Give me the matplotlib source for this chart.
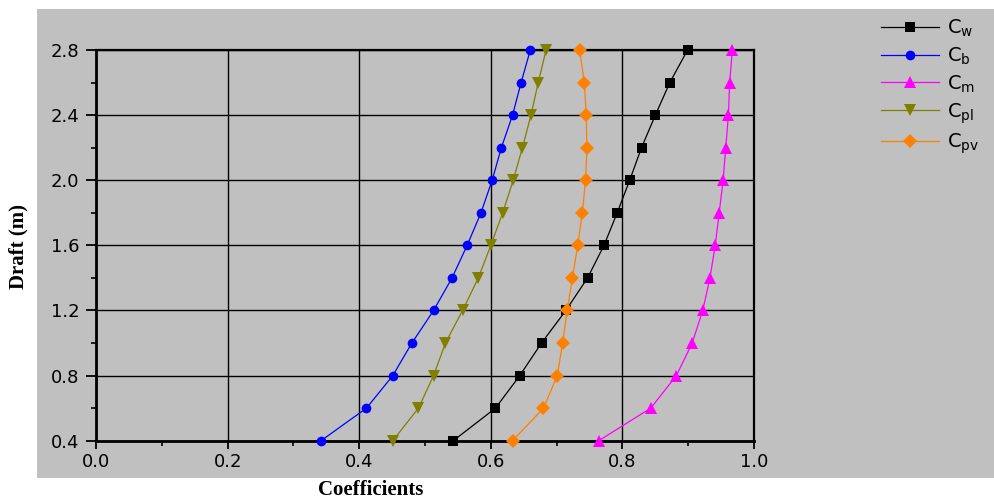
import matplotlib
matplotlib.use("Agg")
import matplotlib.pyplot as plt
from matplotlib.patches import Rectangle
from matplotlib.ticker import MultipleLocator

# Hull form coefficients against draft
draft = [0.4, 0.6, 0.8, 1.0, 1.2, 1.4, 1.6, 1.8, 2.0, 2.2, 2.4, 2.6, 2.8]
cw = [0.543, 0.607, 0.644, 0.677, 0.714, 0.747, 0.772, 0.792, 0.811, 0.829, 0.850, 0.872, 0.899]
cb = [0.342, 0.411, 0.451, 0.480, 0.513, 0.541, 0.564, 0.585, 0.602, 0.616, 0.633, 0.646, 0.660]
cm = [0.764, 0.843, 0.882, 0.906, 0.922, 0.933, 0.941, 0.947, 0.953, 0.957, 0.961, 0.963, 0.967]
cpl = [0.451, 0.490, 0.513, 0.531, 0.557, 0.581, 0.600, 0.618, 0.634, 0.648, 0.661, 0.672, 0.684]
cpv = [0.633, 0.680, 0.701, 0.709, 0.716, 0.724, 0.732, 0.739, 0.744, 0.746, 0.745, 0.742, 0.735]

series = [
    (cw, r'C$_\mathregular{w}$', 'black', 's', 6.5),
    (cb, r'C$_\mathregular{b}$', '#0000ff', 'o', 7),
    (cm, r'C$_\mathregular{m}$', '#ff00ff', '^', 9),
    (cpl, r'C$_\mathregular{pl}$', '#808000', 'v', 9),
    (cpv, r'C$_\mathregular{pv}$', '#ff8000', 'D', 7),
]

plt.rcParams['font.family'] = 'DejaVu Sans'

fig = plt.figure(figsize=(9.94, 5.04), dpi=100)
fig.patch.set_facecolor('white')
# grey backdrop behind the plot and legend
fig.patches.append(Rectangle((0.0372, 0.0516), 0.963, 0.9306, transform=fig.transFigure,
                             facecolor='#c0c0c0', edgecolor='none', zorder=-5))

ax = fig.add_axes([0.0966, 0.1256, 0.662, 0.7752])
ax.set_facecolor('#c0c0c0')

for vals, label, color, marker, ms in series:
    ax.plot(vals, draft, color=color, linewidth=0.9, marker=marker, markersize=ms,
            markeredgewidth=0, label=label, zorder=3, clip_on=False)

ax.set_xlim(0.0, 1.0)
ax.set_ylim(0.4, 2.8)
ax.xaxis.set_major_locator(MultipleLocator(0.2))
ax.xaxis.set_minor_locator(MultipleLocator(0.1))
ax.yaxis.set_major_locator(MultipleLocator(0.4))
ax.yaxis.set_minor_locator(MultipleLocator(0.2))
ax.xaxis.set_major_formatter(plt.FormatStrFormatter('%.1f'))
ax.yaxis.set_major_formatter(plt.FormatStrFormatter('%.1f'))
ax.grid(True, which='major', color='black', linewidth=1.0)
ax.set_axisbelow(True)

ax.tick_params(which='major', direction='out', length=7, width=1.3, labelsize=13, pad=5)
ax.tick_params(axis='x', which='major', length=6, pad=3)
ax.tick_params(which='minor', direction='out', length=3.5, width=1.2)
for side in ['left', 'bottom']:
    ax.spines[side].set_linewidth(2.0)
for side in ['top', 'right']:
    ax.spines[side].set_linewidth(1.6)

fig.text(0.373, 0.028, 'Coefficients', fontfamily='Liberation Serif', fontweight='bold',
         fontsize=15, ha='center', va='center')
fig.text(0.019, 0.51, 'Draft (m)', fontfamily='Liberation Serif', fontweight='bold',
         fontsize=15, ha='center', va='center', rotation=90)

fig.legend(loc='upper left', bbox_to_anchor=(0.878, 0.98), frameon=False,
           fontsize=14, handlelength=3.0, handletextpad=0.4, labelspacing=0.33,
           borderaxespad=0)

fig.savefig('out.png', dpi=100)
